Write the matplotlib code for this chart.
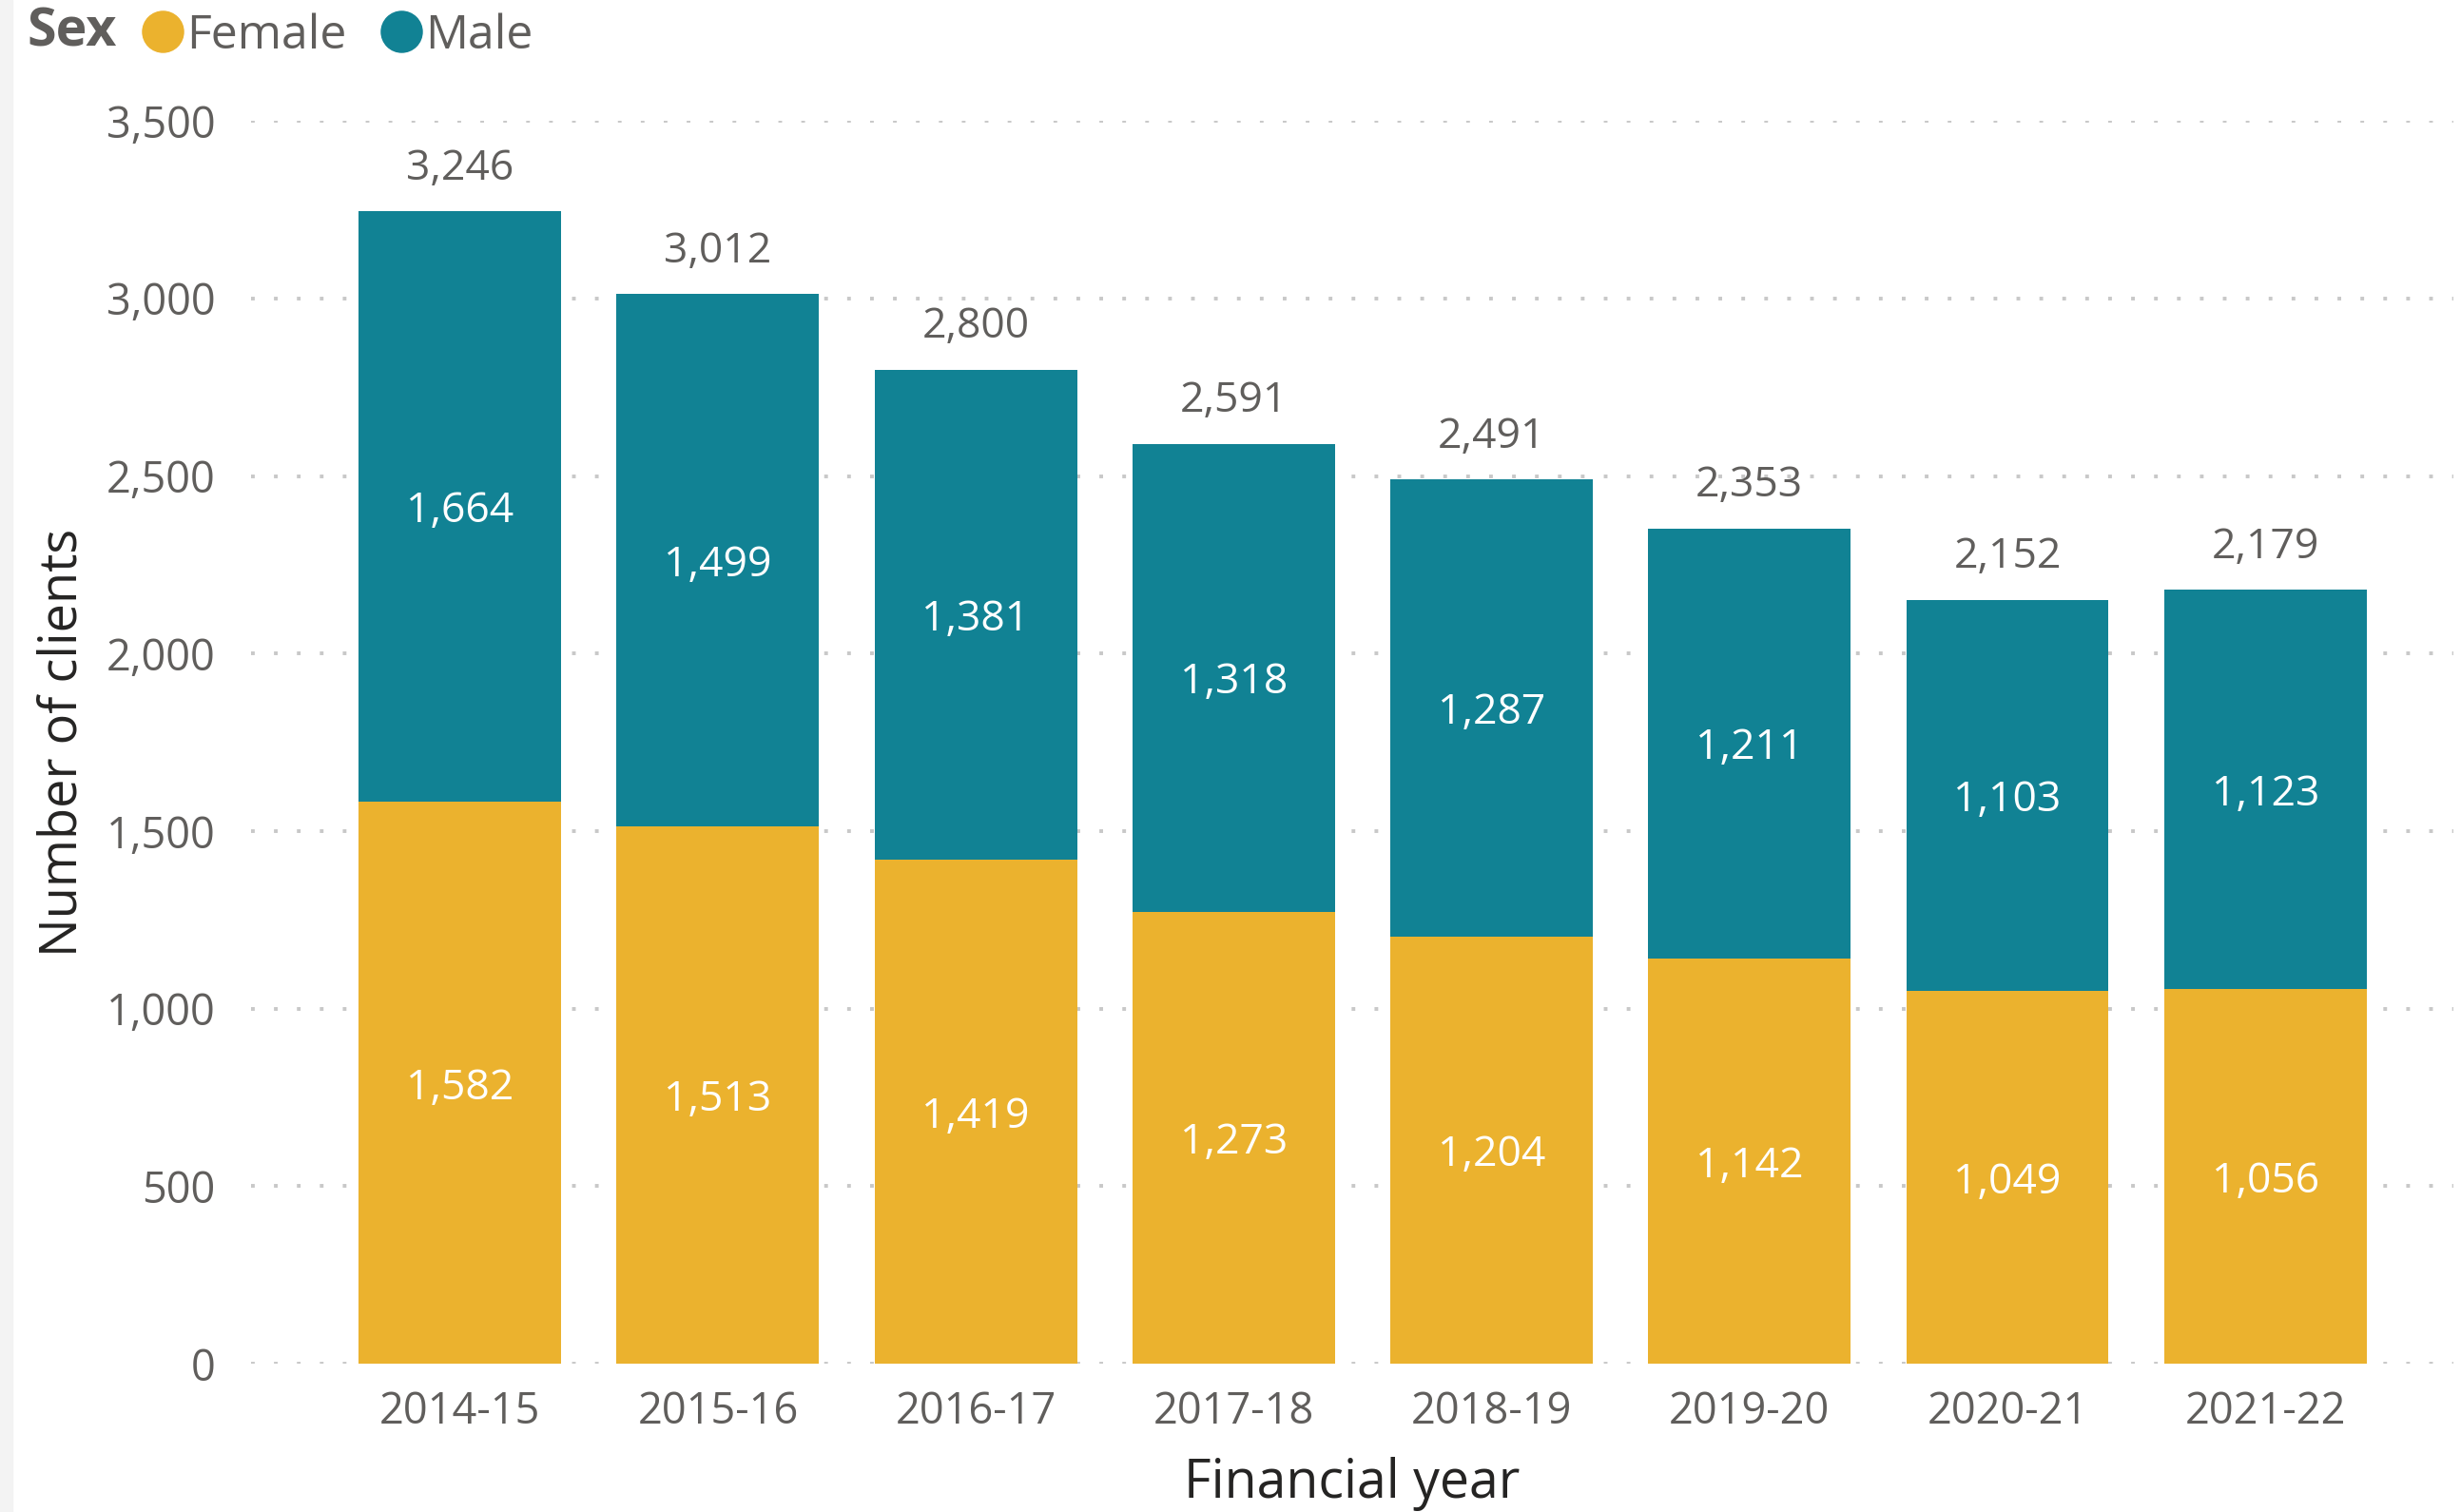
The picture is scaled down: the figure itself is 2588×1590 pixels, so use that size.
import matplotlib.pyplot as plt
from matplotlib.patches import Rectangle
from matplotlib.lines import Line2D

years = ["2014-15", "2015-16", "2016-17", "2017-18", "2018-19", "2019-20", "2020-21", "2021-22"]
female = [1582, 1513, 1419, 1273, 1204, 1142, 1049, 1056]
male = [1664, 1499, 1381, 1318, 1287, 1211, 1103, 1123]
yticks = [0, 500, 1000, 1500, 2000, 2500, 3000, 3500]

female_col = "#EBB22E"
male_col = "#118294"
text_col = "#605E5C"

plt.rcParams["font.family"] = ["Open Sans", "DejaVu Sans"]

fig = plt.figure(figsize=(25.88, 15.90), dpi=100)
fig.patches.append(Rectangle((0, 0), 0.005, 1, transform=fig.transFigure,
                             color="#f3f3f3", zorder=0))
ax = fig.add_axes([0.102, 0.098, 0.895, 0.822])

x = range(len(years))
totals = [f + m for f, m in zip(female, male)]
width = 0.785
ax.bar(x, female, width, color=female_col, zorder=2)
ax.bar(x, male, width, bottom=female, color=male_col, zorder=2)

for i in x:
    ax.text(i, female[i] / 2, f"{female[i]:,}", ha="center", va="center_baseline",
            color="white", fontsize=32, zorder=3)
    ax.text(i, female[i] + male[i] / 2, f"{male[i]:,}", ha="center", va="center_baseline",
            color="white", fontsize=32, zorder=3)
    ax.text(i, totals[i] + 60, f"{totals[i]:,}", ha="center", va="bottom",
            color=text_col, fontsize=32, zorder=3)

ax.set_xlim(-0.81, 7.73)
ax.set_ylim(0, 3500)
ax.set_yticks(yticks)
ax.set_yticklabels([f"{v:,}" for v in yticks])
ax.set_xticks(list(x))
ax.set_xticklabels(years)
ax.tick_params(axis="both", length=0, labelsize=32.5, labelcolor=text_col)
ax.tick_params(axis="y", pad=27)
ax.tick_params(axis="x", pad=20)
ax.grid(axis="y", color="#c8c8c8", linewidth=2.8, linestyle=(0, (1, 5.2)), zorder=1)
ax.set_axisbelow(True)
for s in ax.spines.values():
    s.set_visible(False)

ax.set_ylabel("Number of clients", fontsize=39, color="#252423", labelpad=13)
ax.set_xlabel("Financial year", fontsize=40, color="#252423", labelpad=17)

handles = [Line2D([], [], marker="o", linestyle="", markersize=31, color=female_col),
           Line2D([], [], marker="o", linestyle="", markersize=31, color=male_col)]
fig.text(0.011, 0.996, "Sex", fontsize=40, fontweight="bold", color=text_col, va="top")
fig.legend(handles, ["Female", "Male"], loc="upper left", bbox_to_anchor=(0.037, 1.02),
           ncol=2, frameon=False, fontsize=36, labelcolor=text_col,
           handletextpad=-0.1, columnspacing=0.55, handlelength=1.2)

fig.savefig("out.png", dpi=100)
